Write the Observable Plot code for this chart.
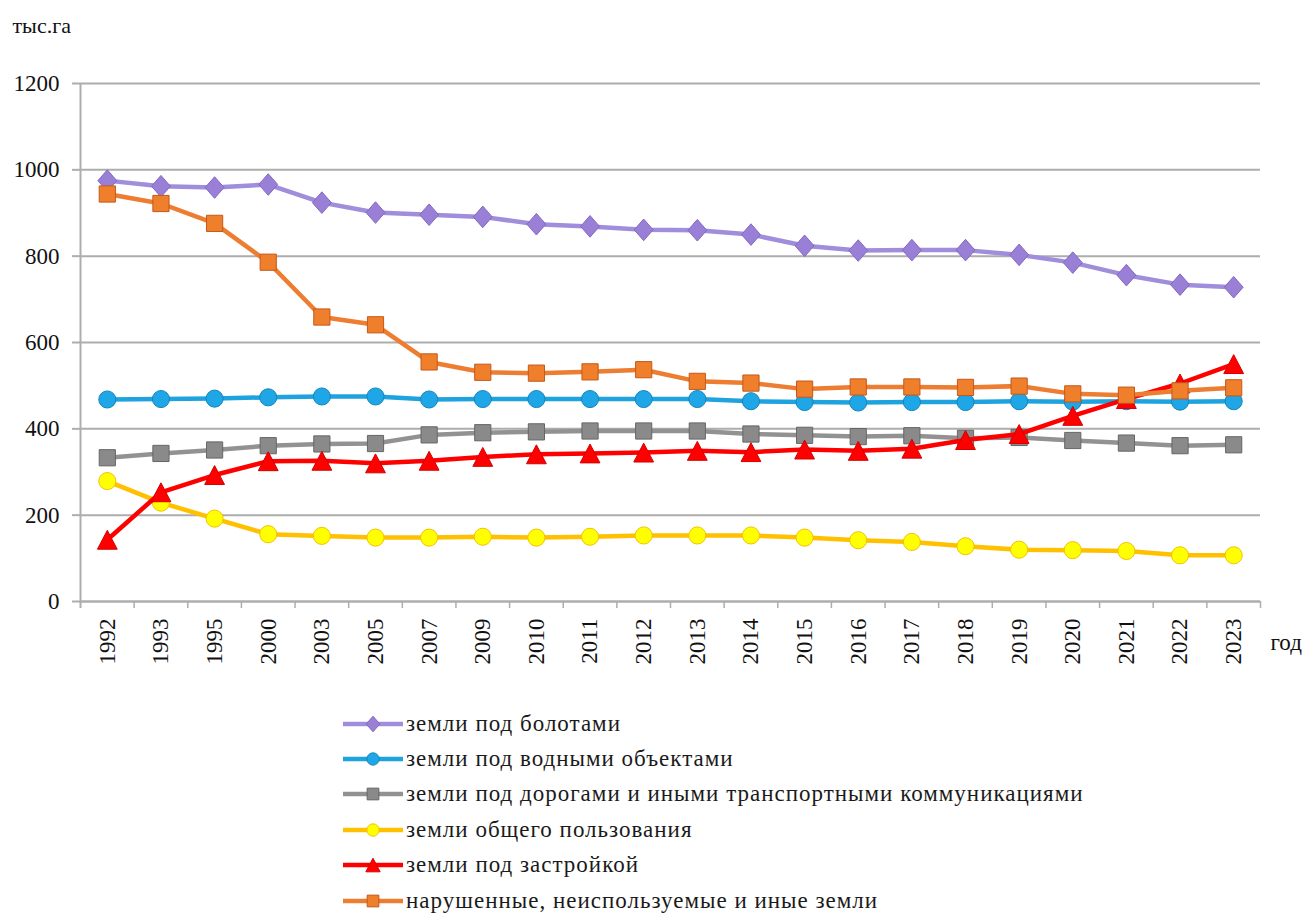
<!DOCTYPE html>
<html><head><meta charset="utf-8">
<script src="https://cdn.jsdelivr.net/npm/d3@7"></script>
<script src="https://cdn.jsdelivr.net/npm/@observablehq/plot@0.6"></script>
<style>
body{margin:0;background:#fff;}
#wrap{position:relative;width:1308px;height:914px;font-family:"Liberation Serif","Times New Roman",serif;color:#1a1a1a;background:#fff;overflow:hidden;}
#legend{position:absolute;left:343px;top:706px;}
.row{display:flex;align-items:center;height:35.4px;font-size:23px;white-space:nowrap;letter-spacing:1px;}
.row svg{margin-right:3px;}
</style></head><body><div id="wrap"><div id="chart"></div><div id="legend"></div></div>
<script>
const years = ["1992","1993","1995","2000","2003","2005","2007","2009","2010","2011","2012","2013","2014","2015","2016","2017","2018","2019","2020","2021","2022","2023"];
const swamp     = [975, 962, 959, 966, 924, 901, 896, 891, 874, 869, 861, 860, 850, 824, 813, 814, 814, 803, 785, 756, 734, 728];
const water     = [468, 469, 470, 473, 475, 475, 468, 469, 469, 469, 469, 469, 464, 462, 461, 462, 462, 464, 463, 464, 463, 464];
const roads     = [333, 343, 351, 361, 365, 366, 386, 391, 393, 395, 395, 395, 388, 385, 382, 384, 378, 380, 373, 367, 361, 363];
const publicUse = [279, 229, 192, 156, 152, 148, 148, 150, 148, 150, 153, 153, 153, 148, 142, 138, 128, 120, 119, 117, 107, 107];
const building  = [143, 253, 293, 325, 326, 320, 326, 335, 341, 343, 345, 349, 346, 352, 349, 354, 374, 388, 430, 469, 505, 550];
const disturbed = [944, 922, 876, 786, 659, 641, 555, 531, 529, 532, 537, 510, 506, 492, 497, 497, 496, 499, 481, 478, 488, 495];
const seriesNames = [
  "земли под болотами",
  "земли под водными объектами",
  "земли под дорогами и иными транспортными коммуникациями",
  "земли общего пользования",
  "земли под застройкой",
  "нарушенные, неиспользуемые и иные земли"
];
const yTicks = [0, 200, 400, 600, 800, 1000, 1200];
const yUnit = "тыс.га";
const xUnit = "год";

function mk(fn){ return {draw(ctx, size){ const r = Math.sqrt(size/Math.PI); fn(ctx, r); }}; }
const symDiamond = mk((c,r)=>{const w=r*1.05,h=r*1.2;c.moveTo(0,-h);c.lineTo(w,0);c.lineTo(0,h);c.lineTo(-w,0);c.closePath();});
const symCircle = mk((c,r)=>{const a=r*0.95;c.moveTo(a,0);c.arc(0,0,a,0,2*Math.PI);c.closePath();});
const symSquare = mk((c,r)=>{const a=r*0.9;c.rect(-a,-a,2*a,2*a);});
const symTriangle = mk((c,r)=>{const w=r*1.1,h=r*1.05;c.moveTo(0,-h);c.lineTo(w,h);c.lineTo(-w,h);c.closePath();});

const styles = [
  {vals: swamp,     line:"#a08ddb", fill:"#9a7fd6", stroke:"#8468c4", sym: symDiamond},
  {vals: water,     line:"#1ea3df", fill:"#1ea6e6", stroke:"#1585bd", sym: symCircle},
  {vals: roads,     line:"#929292", fill:"#8a8a8a", stroke:"#666666", sym: symSquare},
  {vals: publicUse, line:"#ffc000", fill:"#ffff00", stroke:"#f2c200", sym: symCircle},
  {vals: building,  line:"#ff0000", fill:"#ff0000", stroke:"#d40000", sym: symTriangle},
  {vals: disturbed, line:"#ed7d31", fill:"#f07f2c", stroke:"#c4581a", sym: symSquare}
];

const W = 1308, H = 700, mL = 80, mR = 48, mT = 83, mB = 99;
const step = (W - mL - mR) / years.length;
const grid = "#adadad";

const seriesMarks = [];
styles.forEach((s, i) => {
  const data = years.map((y, j) => ({year: y, value: s.vals[j], series: seriesNames[i]}));
  seriesMarks.push(Plot.line(data, {x: "year", y: "value", stroke: s.line, strokeWidth: 4.5, strokeLinejoin: "round", strokeLinecap: "round"}));
  seriesMarks.push(Plot.dot(data, {x: "year", y: "value", symbol: s.sym, r: 9, fill: s.fill, stroke: s.stroke, strokeWidth: 1}));
});

const chart = Plot.plot({
  width: W, height: H,
  marginLeft: mL, marginRight: mR, marginTop: mT, marginBottom: mB,
  style: {fontFamily: '"Liberation Serif","Times New Roman",serif', fontSize: "23px", color: "#111", background: "#fff", overflow: "visible"},
  x: {type: "point", domain: years, padding: 0.5, round: false, label: null},
  y: {domain: [0, 1200], label: null},
  marks: [
    Plot.gridY(yTicks, {stroke: grid, strokeOpacity: 1, strokeWidth: 2}),
    Plot.ruleX([years[0]], {dx: -step/2, stroke: grid, strokeWidth: 2, insetBottom: -7}),
    Plot.ruleY([0], {stroke: grid, strokeWidth: 2}),
    Plot.axisY(yTicks, {tickSize: 8, tickFormat: () => "", stroke: grid, strokeWidth: 2, label: null}),
    Plot.axisY(yTicks, {tickSize: 0, tickPadding: 21, tickFormat: d => String(d), label: null, fontSize: 23}),
    Plot.axisX(years, {tickSize: 7, tickFormat: () => "", dx: step/2, stroke: grid, strokeWidth: 1.5, label: null}),
    Plot.axisX(years, {tickSize: 0, tickPadding: 17, tickRotate: -90, label: null, fontSize: 23}),
    Plot.text([yUnit], {frameAnchor: "top-left", dx: -68, dy: -58, textAnchor: "start", lineAnchor: "middle", fontSize: 22}),
    Plot.text([xUnit], {frameAnchor: "bottom-right", dx: 10, dy: 41, textAnchor: "start", lineAnchor: "middle", fontSize: 23}),
    ...seriesMarks
  ]
});
document.getElementById("chart").appendChild(chart);

// legend
const legend = document.getElementById("legend");
styles.forEach((s, i) => {
  const row = document.createElement("div");
  row.className = "row";
  const ns = "http://www.w3.org/2000/svg";
  const svg = document.createElementNS(ns, "svg");
  svg.setAttribute("width", 60); svg.setAttribute("height", 24);
  const ln = document.createElementNS(ns, "line");
  ln.setAttribute("x1", 0); ln.setAttribute("x2", 60); ln.setAttribute("y1", 12); ln.setAttribute("y2", 12);
  ln.setAttribute("stroke", s.line); ln.setAttribute("stroke-width", 4.5);
  svg.appendChild(ln);
  const p = document.createElementNS(ns, "path");
  const path = d3.path(); s.sym.draw(path, Math.PI * 6.5 * 6.5);
  p.setAttribute("d", path.toString());
  p.setAttribute("transform", "translate(30,12)");
  p.setAttribute("fill", s.fill); p.setAttribute("stroke", s.stroke);
  svg.appendChild(p);
  row.appendChild(svg);
  const t = document.createElement("span");
  t.textContent = seriesNames[i];
  row.appendChild(t);
  legend.appendChild(row);
});
</script>
</body></html>
